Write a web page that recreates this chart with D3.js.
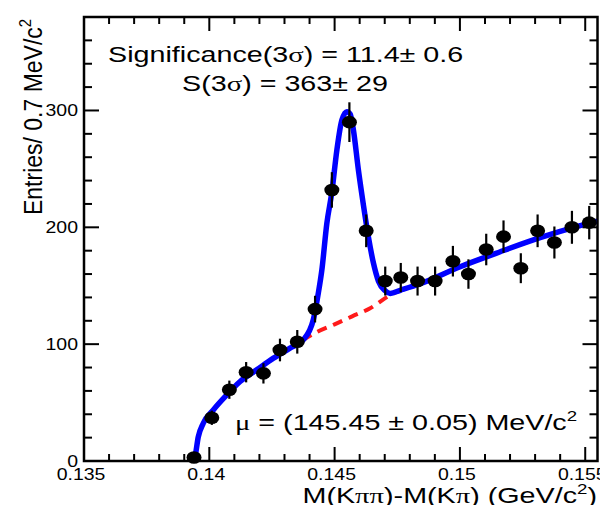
<!DOCTYPE html>
<html>
<head>
<meta charset="utf-8">
<script src="https://cdn.jsdelivr.net/npm/d3@7"></script>
<style>
  html, body { margin: 0; padding: 0; background: #fff; }
  svg { display: block; }
  text { font-family: "Liberation Sans", Arial, Helvetica, sans-serif; fill: #000; }
  .sym { font-family: "Liberation Serif", "DejaVu Serif", serif; }
</style>
</head>
<body>
<svg id="chart" width="600" height="505"></svg>
<script>
// Mass-difference histogram: bin centres (GeV/c^2), entries and their errors
const binCenters = [0.13939, 0.14010, 0.14080, 0.14147, 0.14216, 0.14282, 0.14351, 0.14422,
                    0.14489, 0.14559, 0.14626, 0.14702, 0.14764, 0.14831, 0.14901, 0.14972,
                    0.15034, 0.15105, 0.15174, 0.15243, 0.15310, 0.15377, 0.15447, 0.15516];
const counts = [3, 37, 61, 76, 75, 95, 102, 130,
                232, 290, 197, 154, 157, 154, 154, 171,
                160, 181, 192, 165, 197, 187, 200, 204];
const countErrors = [1.7, 6.1, 7.8, 8.7, 8.7, 9.7, 10.1, 11.4,
                     15.2, 17.0, 14.0, 12.4, 12.5, 12.4, 12.4, 13.1,
                     12.6, 13.5, 13.9, 12.8, 14.0, 13.7, 14.1, 14.3];

// Total fit (signal + background), sampled along the curve
const fitX = [0.13939, 0.13943, 0.13956, 0.13976, 0.14016, 0.14070, 0.14123, 0.14189,
              0.14256, 0.14322, 0.14375, 0.14415, 0.14435, 0.14449, 0.14469, 0.14489,
              0.14509, 0.14529, 0.14549, 0.14562, 0.14575, 0.14595, 0.14615, 0.14635,
              0.14655, 0.14675, 0.14702, 0.14722, 0.14762, 0.14841, 0.15001, 0.15161,
              0.15320, 0.15480, 0.15560];
const fitTotal = [0, 3.4, 20.6, 32.3, 43.7, 56.6, 68.0, 78.0,
                  88.0, 96.6, 103.7, 120.9, 143.7, 163.3, 203.4, 230.1,
                  266.1, 291.8, 299.0, 297.0, 283.3, 248.9, 219.0, 191.6,
                  169.3, 153.9, 145.7, 143.4, 146.1, 151.7, 166.3, 179.1,
                  191.1, 201.4, 205.9];

// Background component of the fit
const bkgX = [0.13939, 0.13943, 0.13956, 0.13976, 0.14016, 0.14070, 0.14123, 0.14189,
              0.14256, 0.14322, 0.14375, 0.14430, 0.14500, 0.14570, 0.14640, 0.14722,
              0.14762, 0.14841, 0.15001, 0.15161, 0.15320, 0.15480, 0.15560];
const bkgVals = [0, 3.4, 20.6, 32.3, 43.7, 56.6, 68.0, 78.0,
                 88.0, 96.6, 103.7, 110.5, 117.0, 123.8, 130.5, 142.0,
                 146.1, 151.7, 166.3, 179.1, 191.1, 201.4, 205.9];

// Axis settings
const xDomain = [0.135, 0.15549];
const yDomain = [0, 380];
const xMajorTicks = [0.135, 0.14, 0.145, 0.15, 0.155];
const xTickLabels = ["0.135", "0.14", "0.145", "0.15", "0.155"];
const yMajorTicks = [0, 100, 200, 300];
const yTickLabels = ["0", "100", "200", "300"];

const svg = d3.select("#chart");
const L = 84, R = 597.5, T = 17, B = 461;
const x = d3.scaleLinear().domain(xDomain).range([L, R]);
const y = d3.scaleLinear().domain(yDomain).range([B, T]);

const TICK_STRETCH = 1.18;  // tick labels are set slightly wide
const TEXT_STRETCH = 1.335; // annotations and titles are set wider still

svg.append("clipPath").attr("id", "plotArea")
  .append("rect").attr("x", L).attr("y", T).attr("width", R - L).attr("height", B - T);

// Fit curves
const plot = svg.append("g").attr("clip-path", "url(#plotArea)");
const lineGen = d3.line().x(d => x(d[0])).y(d => y(d[1])).curve(d3.curveMonotoneX);

plot.append("path")
  .datum(bkgX.map((v, i) => [v, bkgVals[i]]))
  .attr("d", lineGen)
  .attr("fill", "none").attr("stroke", "#ff1a1a")
  .attr("stroke-width", 4).attr("stroke-dasharray", "10,7");

plot.append("path")
  .datum(fitX.map((v, i) => [v, fitTotal[i]]))
  .attr("d", lineGen)
  .attr("fill", "none").attr("stroke", "#0000ff")
  .attr("stroke-width", 5.5).attr("stroke-linejoin", "round").attr("stroke-linecap", "round");

// Data points with error bars
const pts = svg.append("g");
binCenters.forEach((bx, i) => {
  pts.append("line")
    .attr("x1", x(bx)).attr("x2", x(bx))
    .attr("y1", y(counts[i] - countErrors[i])).attr("y2", y(counts[i] + countErrors[i]))
    .attr("stroke", "#000").attr("stroke-width", 2.2);
  pts.append("ellipse")
    .attr("cx", x(bx)).attr("cy", y(counts[i]))
    .attr("rx", 7.5).attr("ry", 6.3).attr("fill", "#000");
});

// Frame and ticks (mirrored on all four sides)
const axes = svg.append("g").attr("stroke", "#000");
axes.append("rect").attr("x", L).attr("y", T).attr("width", R - L).attr("height", B - T)
  .attr("fill", "none").attr("stroke-width", 2.5);

const xMinor = d3.range(0.135, 0.1555, 0.001).map(v => +v.toFixed(3));
xMinor.forEach(v => {
  const major = xMajorTicks.some(m => Math.abs(m - v) < 1e-6);
  const len = major ? 14 : 7;
  axes.append("line").attr("x1", x(v)).attr("x2", x(v)).attr("y1", B).attr("y2", B - len).attr("stroke-width", 2);
  axes.append("line").attr("x1", x(v)).attr("x2", x(v)).attr("y1", T).attr("y2", T + len).attr("stroke-width", 2);
});
d3.range(0, 381, 20).forEach(v => {
  const major = v % 100 === 0;
  const len = major ? 15 : 8;
  axes.append("line").attr("x1", L).attr("x2", L + len).attr("y1", y(v)).attr("y2", y(v)).attr("stroke-width", 2);
  axes.append("line").attr("x1", R).attr("x2", R - len).attr("y1", y(v)).attr("y2", y(v)).attr("stroke-width", 2);
});

// Helper: text stretched horizontally about its anchor point
function stretchedText(px, py, anchor, size, stretch) {
  return svg.append("g").attr("transform", `translate(${px},${py}) scale(${stretch},1)`)
    .append("text").attr("text-anchor", anchor).attr("font-size", size);
}

xMajorTicks.forEach((v, i) => {
  stretchedText(x(v) - 3, 480, "middle", 16.5, TICK_STRETCH).text(xTickLabels[i]);
});
yMajorTicks.forEach((v, i) => {
  stretchedText(78, y(v) + 6, "end", 16.5, TICK_STRETCH).text(yTickLabels[i]);
});

// Fit result annotations
const t1 = stretchedText(108, 62, "start", 21.5, TEXT_STRETCH);
t1.append("tspan").text("Significance(3");
t1.append("tspan").attr("class", "sym").text("σ");
t1.append("tspan").text(") = 11.4± 0.6");

const t2 = stretchedText(182, 91, "start", 21.5, TEXT_STRETCH);
t2.append("tspan").text("S(3");
t2.append("tspan").attr("class", "sym").text("σ");
t2.append("tspan").text(") = 363± 29");

const t3 = stretchedText(235, 430, "start", 21.5, TEXT_STRETCH);
t3.append("tspan").attr("class", "sym").text("μ");
t3.append("tspan").text(" = (145.45 ± 0.05) MeV/c");
t3.append("tspan").attr("font-size", 14).attr("dy", -9).text("2");

// Axis titles
const yt = svg.append("g").attr("transform", "translate(42,215) scale(1.12,1) rotate(-90)")
  .append("text").attr("text-anchor", "start").attr("font-size", 23);
yt.append("tspan").text("Entries/ 0.7 MeV/c");
yt.append("tspan").attr("font-size", 15).attr("dy", -10).text("2");

const xt = stretchedText(597, 503, "end", 21.5, TEXT_STRETCH);
xt.append("tspan").text("M(K");
xt.append("tspan").attr("class", "sym").text("ππ");
xt.append("tspan").text(")-M(K");
xt.append("tspan").attr("class", "sym").text("π");
xt.append("tspan").text(") (GeV/c");
xt.append("tspan").attr("font-size", 14).attr("dy", -9).text("2");
xt.append("tspan").attr("dy", 9).text(")");
</script>
</body>
</html>
